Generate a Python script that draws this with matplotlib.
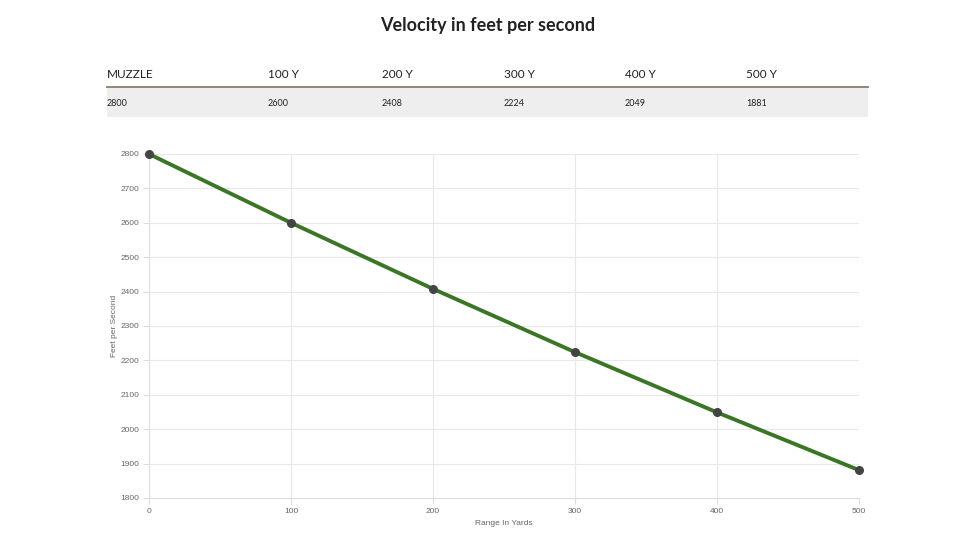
import matplotlib
matplotlib.use('Agg')
import matplotlib.pyplot as plt
from matplotlib.patches import Rectangle
from matplotlib.lines import Line2D

# 数据
ranges = [0, 100, 200, 300, 400, 500]
velocity = [2800, 2600, 2408, 2224, 2049, 1881]
headers = ['MUZZLE', '100 Y', '200 Y', '300 Y', '400 Y', '500 Y']
yticks = [1800, 1900, 2000, 2100, 2200, 2300, 2400, 2500, 2600, 2700, 2800]

plt.rcParams['font.family'] = ['Lato', 'DejaVu Sans']

W, H = 978, 550
fig = plt.figure(figsize=(W / 100, H / 100), dpi=100)

# 标题
fig.text(488 / W, 1 - 25 / H, 'Velocity in feet per second', ha='center', va='center',
         fontsize=13, fontweight='bold', color='#222222')

# 表格
col_x = [107, 268, 382, 504, 625, 746]
fig.patches.append(Rectangle((107 / W, 1 - 117 / H), (868 - 107) / W, 29 / H,
                             transform=fig.transFigure, facecolor='#eeeeee', edgecolor='none'))
fig.lines.append(Line2D([107 / W, 868 / W], [1 - 87 / H, 1 - 87 / H],
                        transform=fig.transFigure, color='#8c7b68', linewidth=1.3))
for x, h, v in zip(col_x, headers, velocity):
    fig.text(x / W, 1 - 75 / H, h, ha='left', va='center', fontsize=8.5, color='#222222')
    fig.text(x / W, 1 - 103 / H, str(v), ha='left', va='center', fontsize=6.5, color='#222222')

# 折线图
ax = fig.add_axes([149 / W, 1 - 498 / H, (859 - 149) / W, (498 - 154) / H])
ax.plot(ranges, velocity, color='#3b7526', linewidth=2.8, zorder=3, clip_on=False,
        marker='o', markersize=5.5, markerfacecolor='#444444', markeredgecolor='#444444')
ax.set_xlim(0, 500)
ax.set_ylim(1800, 2800)
ax.set_xticks(ranges)
ax.set_yticks(yticks)
ax.grid(True, color='#e8e8e8', linewidth=0.8)
ax.set_axisbelow(True)
for s in ['top', 'right']:
    ax.spines[s].set_visible(False)
for s in ['left', 'bottom']:
    ax.spines[s].set_color('#dddddd')
ax.tick_params(colors='#dddddd', labelcolor='#666666', labelsize=6, length=4, width=0.8, pad=3)
for lbl in ax.get_xticklabels() + ax.get_yticklabels():
    lbl.set_family('Liberation Sans')
ax.set_xlabel('Range In Yards', fontsize=6, color='#666666', labelpad=4, family='Liberation Sans')
ax.set_ylabel('Feet per Second', fontsize=6, color='#666666', labelpad=2, family='Liberation Sans')

fig.savefig('out.png', dpi=100)
